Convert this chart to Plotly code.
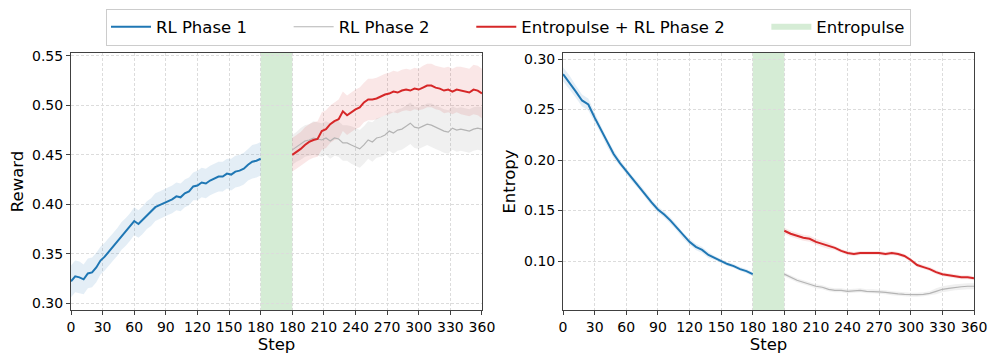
import plotly.graph_objects as go
from plotly.subplots import make_subplots

# Entropulse is drawn as a gap of GAP steps inserted after step 180
PULSE_AT = 180
GAP = 30

# ---- Reward ----
reward_p1_steps = list(range(0, 181, 4))
reward_p1 = [0.322, 0.327, 0.326, 0.324, 0.330, 0.331, 0.336, 0.343, 0.347, 0.352,
             0.357, 0.362, 0.368, 0.372, 0.377, 0.383, 0.380, 0.384, 0.389, 0.392,
             0.397, 0.399, 0.401, 0.403, 0.405, 0.408, 0.407, 0.411, 0.413, 0.418,
             0.419, 0.422, 0.421, 0.424, 0.426, 0.428, 0.428, 0.431, 0.430, 0.433,
             0.434, 0.436, 0.440, 0.443, 0.444, 0.446]
reward_p1_std = [0.016, 0.016, 0.016, 0.015, 0.015, 0.015, 0.015, 0.014, 0.014, 0.014,
                 0.014, 0.014, 0.014, 0.014, 0.014, 0.014, 0.014, 0.014, 0.014, 0.014,
                 0.014, 0.014, 0.014, 0.014, 0.014, 0.014, 0.014, 0.014, 0.014, 0.014,
                 0.015, 0.015, 0.015, 0.015, 0.015, 0.015, 0.015, 0.015, 0.016, 0.016,
                 0.016, 0.016, 0.016, 0.017, 0.017, 0.017]

phase2_steps_r = list(range(180, 361, 4))
reward_rl2 = [0.455, 0.458, 0.461, 0.464, 0.465, 0.467, 0.466, 0.465, 0.467, 0.464,
              0.467, 0.466, 0.462, 0.462, 0.460, 0.458, 0.456, 0.460, 0.465, 0.463,
              0.467, 0.468, 0.470, 0.474, 0.472, 0.475, 0.476, 0.479, 0.482, 0.478,
              0.477, 0.479, 0.481, 0.480, 0.478, 0.476, 0.474, 0.473, 0.477, 0.475,
              0.476, 0.475, 0.474, 0.476, 0.477, 0.476]
reward_rl2_std = [0.015, 0.015, 0.016, 0.016, 0.016, 0.017, 0.017, 0.017, 0.017, 0.018,
                  0.018, 0.018, 0.018, 0.018, 0.019, 0.019, 0.019, 0.019, 0.019, 0.020,
                  0.020, 0.020, 0.020, 0.020, 0.021, 0.021, 0.021, 0.021, 0.021, 0.021,
                  0.021, 0.021, 0.021, 0.022, 0.022, 0.022, 0.022, 0.022, 0.022, 0.022,
                  0.022, 0.022, 0.022, 0.022, 0.022, 0.022]
reward_ep = [0.450, 0.453, 0.456, 0.460, 0.463, 0.465, 0.466, 0.474, 0.476, 0.481,
             0.484, 0.486, 0.494, 0.490, 0.493, 0.496, 0.498, 0.503, 0.506, 0.506,
             0.507, 0.509, 0.511, 0.512, 0.514, 0.513, 0.515, 0.516, 0.515, 0.517,
             0.516, 0.518, 0.520, 0.520, 0.518, 0.517, 0.515, 0.516, 0.514, 0.516,
             0.515, 0.514, 0.513, 0.516, 0.515, 0.512]
reward_ep_std = [0.017, 0.017, 0.017, 0.018, 0.018, 0.018, 0.018, 0.019, 0.019, 0.019,
                 0.019, 0.020, 0.020, 0.020, 0.020, 0.020, 0.020, 0.020, 0.021, 0.021,
                 0.021, 0.021, 0.021, 0.021, 0.021, 0.021, 0.021, 0.021, 0.021, 0.021,
                 0.021, 0.022, 0.022, 0.022, 0.022, 0.022, 0.023, 0.023, 0.023, 0.023,
                 0.024, 0.024, 0.024, 0.025, 0.025, 0.025]

# ---- Entropy ----
entropy_p1_steps = list(range(0, 181, 6))
entropy_p1 = [0.285, 0.277, 0.268, 0.259, 0.255, 0.242, 0.230, 0.217, 0.206, 0.197,
              0.189, 0.181, 0.174, 0.166, 0.158, 0.151, 0.146, 0.140, 0.133, 0.125,
              0.119, 0.114, 0.111, 0.106, 0.103, 0.100, 0.097, 0.095, 0.092, 0.090,
              0.087]
entropy_p1_std = [0.007, 0.007, 0.006, 0.006, 0.006, 0.005, 0.004, 0.004, 0.004, 0.003,
                  0.003, 0.003, 0.003, 0.003, 0.003, 0.003, 0.003, 0.003, 0.003, 0.003,
                  0.003, 0.003, 0.003, 0.003, 0.002, 0.002, 0.002, 0.002, 0.002, 0.002,
                  0.002]

phase2_steps_e = list(range(180, 361, 6))
entropy_rl2 = [0.087, 0.084, 0.081, 0.079, 0.077, 0.075, 0.074, 0.072, 0.071, 0.071,
               0.070, 0.0705, 0.071, 0.070, 0.070, 0.0695, 0.069, 0.068, 0.0675, 0.067,
               0.0665, 0.0667, 0.067, 0.068, 0.070, 0.072, 0.073, 0.074, 0.0745, 0.075,
               0.075]
entropy_rl2_std = [0.002, 0.002, 0.002, 0.002, 0.002, 0.002, 0.002, 0.002, 0.002, 0.002,
                   0.002, 0.002, 0.002, 0.002, 0.002, 0.002, 0.002, 0.002, 0.002, 0.002,
                   0.002, 0.002, 0.002, 0.002, 0.003, 0.003, 0.003, 0.003, 0.003, 0.003,
                   0.003]
entropy_ep = [0.130, 0.127, 0.125, 0.123, 0.122, 0.119, 0.117, 0.115, 0.113, 0.110,
              0.108, 0.107, 0.108, 0.108, 0.108, 0.108, 0.107, 0.108, 0.107, 0.105,
              0.101, 0.096, 0.094, 0.092, 0.089, 0.087, 0.086, 0.085, 0.084, 0.084,
              0.083]
entropy_ep_std = [0.003, 0.003, 0.003, 0.003, 0.003, 0.003, 0.003, 0.003, 0.002, 0.002,
                  0.002, 0.002, 0.002, 0.002, 0.002, 0.002, 0.002, 0.002, 0.002, 0.002,
                  0.002, 0.002, 0.002, 0.002, 0.002, 0.002, 0.002, 0.002, 0.002, 0.002,
                  0.002]

tick_labels = ["0", "30", "60", "90", "120", "150", "180",
               "180", "210", "240", "270", "300", "330", "360"]
reward_ticks = [0.30, 0.35, 0.40, 0.45, 0.50, 0.55]
entropy_ticks = [0.10, 0.15, 0.20, 0.25, 0.30]

BLUE = "#1f77b4"
RED = "#d62728"
GREY = "#b4b4b4"
FONT = "DejaVu Sans, Arial, sans-serif"
PAD = "\u00a0" * 7  # extra room between legend entries


def shift(steps):
    return [s + GAP for s in steps]


def band(fig, x, y, std, color, col):
    upper = [v + s for v, s in zip(y, std)]
    lower = [v - s for v, s in zip(y, std)]
    fig.add_trace(go.Scatter(x=list(x) + list(x)[::-1], y=upper + lower[::-1],
                             fill="toself", fillcolor=color, mode="none",
                             hoverinfo="skip", showlegend=False), row=1, col=col)


def line(fig, x, y, color, width, name, col, legend):
    fig.add_trace(go.Scatter(x=x, y=y, mode="lines", name=name + PAD,
                             line=dict(color=color, width=width),
                             showlegend=legend, legendgroup=name), row=1, col=col)


fig = make_subplots(rows=1, cols=2)

panels = [
    (1, reward_p1_steps, reward_p1, reward_p1_std, phase2_steps_r,
     reward_rl2, reward_rl2_std, reward_ep, reward_ep_std),
    (2, entropy_p1_steps, entropy_p1, entropy_p1_std, phase2_steps_e,
     entropy_rl2, entropy_rl2_std, entropy_ep, entropy_ep_std),
]
for col, s1, y1, e1, s2, yr, er, ye, ee in panels:
    first = col == 1
    band(fig, s1, y1, e1, "rgba(31,119,180,0.12)", col)
    band(fig, shift(s2), yr, er, "rgba(150,150,150,0.14)", col)
    band(fig, shift(s2), ye, ee, "rgba(214,39,40,0.11)", col)
    line(fig, s1, y1, BLUE, 2, "RL Phase 1", col, first)
    line(fig, shift(s2), yr, GREY, 1.2, "RL Phase 2", col, first)
    line(fig, shift(s2), ye, RED, 2, "Entropulse + RL Phase 2", col, first)
    fig.add_vrect(x0=PULSE_AT, x1=PULSE_AT + GAP, fillcolor="rgba(44,160,44,0.2)",
                  line_width=0, layer="below", row=1, col=col)

# legend-only entry for the shaded Entropulse window
fig.add_trace(go.Scatter(x=[None], y=[None], mode="none", fill="toself",
                         fillcolor="rgba(44,160,44,0.2)", name="Entropulse"), row=1, col=1)

tickvals = list(range(0, PULSE_AT + 1, 30)) + list(range(PULSE_AT + GAP, 361 + GAP, 30))
axis_common = dict(showline=True, mirror=True, linecolor="#404040", linewidth=1,
                   ticks="outside", ticklen=4, tickcolor="#404040",
                   showgrid=True, gridcolor="#dcdcdc", griddash="3px,2px", gridwidth=0.8,
                   zeroline=False, automargin=False,
                   tickfont=dict(size=14, color="black"),
                   title_font=dict(size=16.5, color="black"))

fig.update_xaxes(**axis_common, range=[0, 360 + GAP], tickmode="array",
                 tickvals=tickvals, ticktext=tick_labels,
                 title_text="Step", title_standoff=2)
fig.update_yaxes(**axis_common, title_standoff=4, tickformat=".2f")
fig.update_xaxes(domain=[0.0, 0.4551], row=1, col=1)
fig.update_xaxes(domain=[0.5449, 1.0], row=1, col=2)
fig.update_yaxes(range=[0.293, 0.553], tickvals=reward_ticks,
                 title_text="Reward", row=1, col=1)
fig.update_yaxes(range=[0.0515, 0.306], tickvals=entropy_ticks,
                 title_text="Entropy", row=1, col=2)

# the page body adds an 8px offset, so the margins are pulled in by 8px
fig.update_layout(
    width=997, height=362,
    margin=dict(l=63, r=31, t=45, b=60, autoexpand=False),
    paper_bgcolor="white", plot_bgcolor="white",
    font=dict(family=FONT, color="black"),
    legend=dict(orientation="h", x=0.4845, xanchor="center", y=1.173, yanchor="top",
                bordercolor="#cccccc", borderwidth=1, font=dict(size=16.5),
                itemwidth=40),
    showlegend=True,
)

fig.write_html("out.html")
